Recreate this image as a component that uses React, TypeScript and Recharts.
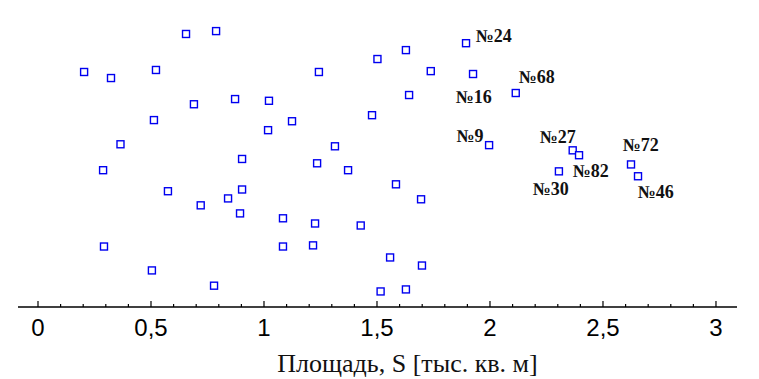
import { ScatterChart, Scatter, XAxis, YAxis, Label } from "recharts";

// площадь объекта, тыс. кв. м
const areaS = [
  0.655, 0.788, 0.204, 0.323, 0.522, 1.243, 1.502, 0.69, 0.872, 1.022,
  0.513, 1.124, 1.018, 1.478, 0.365, 1.314, 0.903, 1.894, 1.628, 1.738,
  1.925, 1.642, 2.114, 1.996, 2.366, 2.394, 0.288, 1.235, 1.372, 0.575,
  0.903, 0.72, 0.841, 0.894, 1.084, 1.226, 1.428, 0.292, 1.084, 1.217,
  0.504, 0.779, 1.516, 2.624, 2.655, 2.305, 1.584, 1.695, 1.558, 1.699,
  1.628,
];
// вертикальная позиция точки (без шкалы)
const posY = [
  94.8, 95.8, 81.6, 79.5, 82.3, 81.6, 86.1, 70.4, 72.2, 71.6,
  64.9, 64.5, 61.4, 66.6, 56.5, 55.8, 51.4, 91.6, 89.2, 81.9,
  80.9, 73.6, 74.3, 56.2, 54.4, 52.7, 47.5, 49.9, 47.5, 40.2,
  40.8, 35.3, 37.7, 32.5, 30.8, 29.0, 28.3, 21.0, 21.0, 21.4,
  12.7, 7.4, 5.4, 49.5, 45.4, 47.1, 42.6, 37.4, 17.2, 14.4,
  6.1,
];

const labelNames = ["№24", "№68", "№16", "№9", "№27", "№72", "№82", "№30", "№46"];
const labelX = [1.937, 2.127, 1.848, 1.852, 2.22, 2.587, 2.366, 2.189, 2.654];
const labelY = [94.0, 80.0, 72.9, 59.4, 59.2, 56.3, 47.3, 40.8, 39.9];

const xTicks = [
  0, 0.1, 0.2, 0.3, 0.4, 0.5, 0.6, 0.7, 0.8, 0.9, 1, 1.1, 1.2, 1.3, 1.4, 1.5,
  1.6, 1.7, 1.8, 1.9, 2, 2.1, 2.2, 2.3, 2.4, 2.5, 2.6, 2.7, 2.8, 2.9, 3,
];
const majorTicks = [0, 0.5, 1, 1.5, 2, 2.5, 3];
const majorLabels = ["0", "0,5", "1", "1,5", "2", "2,5", "3"];

const points = areaS.map((s, i) => ({ s, y: posY[i] }));
const labels = labelNames.map((name, i) => ({ s: labelX[i], y: labelY[i], name }));

const majorIndex = (v: number) => majorTicks.findIndex((m) => Math.abs(m - v) < 1e-6);

function BottomTick({ x, y, payload }: any) {
  const idx = majorIndex(payload.value);
  const len = idx >= 0 ? 6 : 3;
  return (
    <g>
      <line x1={x} x2={x} y1={y} y2={y - len} stroke="#000" strokeWidth={1.2} />
      {idx >= 0 && (
        <text
          x={x}
          y={y + 20}
          textAnchor="middle"
          dominantBaseline="central"
          fontFamily="'Liberation Sans', Arial, sans-serif"
          fontSize={24}
          fill="#000"
        >
          {majorLabels[idx]}
        </text>
      )}
    </g>
  );
}

function TopTick({ x, y, payload }: any) {
  const len = majorIndex(payload.value) >= 0 ? 6 : 3;
  return <line x1={x} x2={x} y1={y} y2={y + len} stroke="#000" strokeWidth={1.2} />;
}

function SquareMark({ cx, cy }: any) {
  return (
    <rect x={cx - 3.5} y={cy - 3.5} width={7} height={7} fill="#fff" stroke="#0000f0" strokeWidth={1.4} />
  );
}

function NameMark({ cx, cy, payload }: any) {
  return (
    <text
      x={cx}
      y={cy}
      dominantBaseline="central"
      fontFamily="'Liberation Serif', 'Times New Roman', serif"
      fontWeight="bold"
      fontSize={18}
      fill="#111"
    >
      {payload.name}
    </text>
  );
}

const xDomain: [number, number] = [-0.0885, 3.093];

export default function App() {
  return (
    <ScatterChart width={751} height={371} margin={{ top: 11, right: 22, bottom: 0, left: 10 }}>
      <XAxis
        type="number"
        dataKey="s"
        domain={xDomain}
        ticks={xTicks}
        allowDataOverflow
        height={72}
        tickSize={0}
        tickMargin={0}
        tickLine={false}
        tick={<BottomTick />}
        interval={0}
        axisLine={{ stroke: "#000", strokeWidth: 1.5 }}
      >
        <Label
          content={({ viewBox }: any) => (
            <text
              x={viewBox.x + viewBox.width / 2 + 30}
              y={viewBox.y + 56}
              textAnchor="middle"
              dominantBaseline="central"
              fontFamily="'Liberation Serif', 'Times New Roman', serif"
              fontSize={26}
              fill="#111"
            >
              Площадь, S [тыс. кв. м]
            </text>
          )}
        />
      </XAxis>
      <XAxis
        xAxisId="top"
        orientation="top"
        type="number"
        dataKey="s"
        domain={xDomain}
        ticks={xTicks}
        allowDataOverflow
        height={0}
        tickSize={0}
        tickMargin={0}
        tickLine={false}
        tick={<TopTick />}
        interval={0}
        axisLine={{ stroke: "#000", strokeWidth: 1.5 }}
      />
      <YAxis
        type="number"
        dataKey="y"
        domain={[0, 100]}
        allowDataOverflow
        width={0}
        tick={false}
        tickLine={false}
        axisLine={{ stroke: "#000", strokeWidth: 1.5 }}
      />
      <YAxis
        yAxisId="right"
        orientation="right"
        type="number"
        dataKey="y"
        domain={[0, 100]}
        allowDataOverflow
        width={0}
        tick={false}
        tickLine={false}
        axisLine={{ stroke: "#000", strokeWidth: 1.5 }}
      />
      <Scatter data={points} shape={<SquareMark />} isAnimationActive={false} />
      <Scatter data={labels} shape={<NameMark />} isAnimationActive={false} />
      <Scatter data={labels} xAxisId="top" yAxisId="right" shape={() => <g />} isAnimationActive={false} />
    </ScatterChart>
  );
}
